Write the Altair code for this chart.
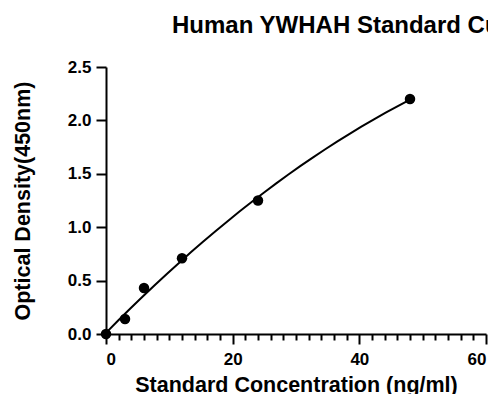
import altair as alt
import pandas as pd

conc = [0, 3, 6, 12, 24, 48]
od = [0.0, 0.14, 0.43, 0.71, 1.25, 2.2]
x_ticks = list(range(0, 61, 2))
y_ticks = [0.0, 0.5, 1.0, 1.5, 2.0, 2.5]

df = pd.DataFrame({"conc": conc, "od": od})

FONT = "Liberation Sans"

xscale = alt.Scale(domain=[0, 60], nice=False)
yscale = alt.Scale(domain=[0, 2.5], nice=False)

xaxis = alt.Axis(
    values=x_ticks, orient="bottom", title="Standard Concentration (ng/ml)",
    labelExpr="datum.value % 20 === 0 ? datum.label : ''",
    tickSize={"condition": {"test": "datum.value % 20 === 0", "value": 10}, "value": 6},
    tickWidth=2,
    domainWidth=2, domainColor="black", tickColor="black",
    labelFont=FONT, labelFontSize=17, labelFontWeight="bold", labelColor="black",
    labelPadding=7, labelOverlap=False, titleFont=FONT, titleFontSize=21.5,
    titleFontWeight="bold", titleColor="black", titlePadding=7, grid=False,
)
yaxis = alt.Axis(
    values=y_ticks, format=".1f", title="Optical Density(450nm)",
    tickSize=10, tickWidth=2, domainWidth=2, domainColor="black",
    tickColor="black", labelFont=FONT, labelFontSize=17, labelFontWeight="bold",
    labelColor="black", labelPadding=5, titleFont=FONT, titleFontSize=21.5,
    titleFontWeight="bold", titleColor="black", titlePadding=33, grid=False,
)

base = alt.Chart(df)

curve = base.transform_regression("conc", "od", method="poly", order=2, extent=[0, 48]).mark_line(
    color="black", strokeWidth=2
).encode(
    x=alt.X("conc:Q", scale=xscale, axis=xaxis),
    y=alt.Y("od:Q", scale=yscale, axis=yaxis),
)

points = base.mark_circle(size=110, color="black", opacity=1).encode(
    x=alt.X("conc:Q", scale=xscale, axis=xaxis),
    y=alt.Y("od:Q", scale=yscale, axis=yaxis),
)

chart = alt.layer(curve, points).properties(
    width=380,
    height=267,
    padding={"left": 98, "top": 59, "right": 2, "bottom": 60},
    autosize="none",
    title=alt.TitleParams("Human YWHAH Standard Curve", anchor="start", frame="group", dx=66,
                          font=FONT, fontSize=24, fontWeight="bold", color="black",
                          offset=20, limit=1000),
).configure_view(stroke=None)

chart.save("out.html", embed_options={"renderer": "svg", "actions": False})
